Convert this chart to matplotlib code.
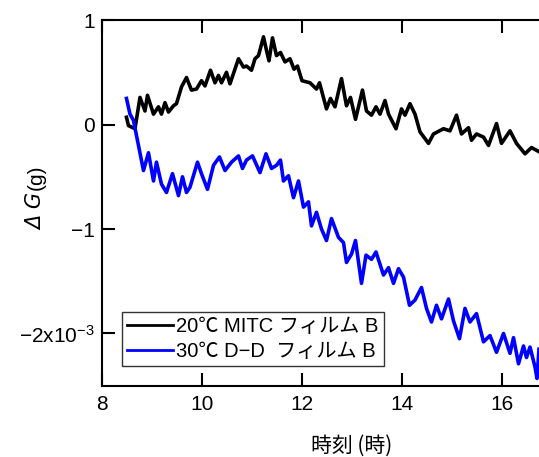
import matplotlib
matplotlib.use("Agg")
import matplotlib.pyplot as plt

plt.rcParams['font.family'] = ['Liberation Sans', 'Noto Sans CJK JP', 'DejaVu Sans']
plt.rcParams['mathtext.fontset'] = 'custom'
plt.rcParams['mathtext.rm'] = 'Liberation Sans'
plt.rcParams['mathtext.it'] = 'Liberation Sans:italic'

# Time of day (h) and mass change (x1e-3 g)
t_mitc = [8.49, 8.53, 8.66, 8.76, 8.86, 8.91, 9.03, 9.13, 9.19, 9.26, 9.33, 9.43,
          9.49, 9.59, 9.69, 9.79, 9.89, 9.99, 10.06, 10.17, 10.26, 10.33, 10.39,
          10.49, 10.56, 10.73, 10.83, 10.89, 10.99, 11.06, 11.13, 11.23, 11.29,
          11.34, 11.41, 11.49, 11.57, 11.66, 11.76, 11.84, 11.91, 12.00, 12.16,
          12.29, 12.35, 12.49, 12.57, 12.66, 12.79, 12.89, 12.97, 13.07, 13.21,
          13.29, 13.39, 13.48, 13.56, 13.66, 13.73, 13.88, 13.99, 14.06, 14.16,
          14.26, 14.36, 14.53, 14.63, 14.83, 14.96, 15.09, 15.19, 15.33, 15.39,
          15.49, 15.63, 15.73, 15.89, 15.99, 16.16, 16.29, 16.46, 16.59, 16.74]
g_mitc = [0.07, -0.01, -0.04, 0.26, 0.13, 0.28, 0.10, 0.17, 0.10, 0.21, 0.12, 0.18,
          0.20, 0.36, 0.45, 0.33, 0.34, 0.42, 0.37, 0.52, 0.40, 0.47, 0.40,
          0.50, 0.39, 0.63, 0.55, 0.56, 0.52, 0.63, 0.66, 0.84, 0.71,
          0.61, 0.83, 0.66, 0.69, 0.60, 0.63, 0.53, 0.56, 0.42, 0.40,
          0.34, 0.40, 0.15, 0.25, 0.17, 0.44, 0.18, 0.26, 0.05, 0.33,
          0.13, 0.09, 0.17, 0.10, 0.23, 0.10, -0.04, 0.15, 0.09, 0.20,
          0.10, -0.07, -0.18, -0.09, -0.04, -0.06, 0.09, -0.09, -0.03, -0.15,
          -0.09, -0.12, -0.20, 0.01, -0.18, -0.06, -0.18, -0.28, -0.22, -0.26]

t_dd = [8.49, 8.56, 8.63, 8.83, 8.93, 9.03, 9.09, 9.19, 9.29, 9.41, 9.53, 9.61,
        9.69, 9.76, 9.91, 9.99, 10.11, 10.23, 10.35, 10.46, 10.59, 10.73, 10.81,
        10.89, 11.01, 11.16, 11.28, 11.39, 11.49, 11.57, 11.63, 11.73, 11.83,
        11.93, 12.03, 12.13, 12.19, 12.29, 12.39, 12.49, 12.59, 12.73, 12.83,
        12.89, 12.99, 13.07, 13.19, 13.28, 13.39, 13.48, 13.63, 13.73, 13.83,
        13.93, 14.03, 14.15, 14.26, 14.39, 14.49, 14.59, 14.69, 14.79, 14.93,
        15.03, 15.15, 15.26, 15.36, 15.49, 15.63, 15.76, 15.89, 16.03, 16.16,
        16.23, 16.33, 16.43, 16.49, 16.56, 16.66, 16.70, 16.74]
g_dd = [0.25, 0.10, 0.04, -0.44, -0.27, -0.54, -0.36, -0.57, -0.65, -0.47, -0.68, -0.50,
        -0.65, -0.60, -0.36, -0.47, -0.62, -0.39, -0.31, -0.44, -0.36, -0.30, -0.42,
        -0.34, -0.30, -0.46, -0.28, -0.42, -0.39, -0.34, -0.54, -0.49, -0.70,
        -0.54, -0.79, -0.74, -0.97, -0.84, -1.00, -1.11, -0.90, -1.08, -1.13,
        -1.32, -1.24, -1.11, -1.52, -1.25, -1.29, -1.22, -1.44, -1.37, -1.52,
        -1.38, -1.46, -1.73, -1.68, -1.56, -1.76, -1.89, -1.73, -1.86, -1.67,
        -1.88, -2.05, -1.76, -1.89, -1.81, -2.08, -2.02, -2.18, -2.00, -2.19,
        -2.04, -2.29, -2.12, -2.23, -2.13, -2.32, -2.43, -2.15]

label_mitc = "20℃ MITC フィルム B"
label_dd = "30℃ D−D  フィルム B"

y_ticks = [-2, -1, 0, 1]
y_ticklabels = ["−2x10$^{-3}$", "−1", "0", "1"]
x_ticks = [8, 10, 12, 14, 16]
x_ticklabels = ["8", "10", "12", "14", "16"]

fig = plt.figure(figsize=(5.39, 4.57), dpi=100)
ax = fig.add_axes([0.1892, 0.156, 0.8108, 0.800])

ax.plot(t_mitc, g_mitc, color="black", lw=2.6, label=label_mitc)
ax.plot(t_dd, g_dd, color="#0000ff", lw=2.6, label=label_dd)

ax.set_xlim(8, 16.74)
ax.set_ylim(-2.5, 1.0)
ax.set_xticks(x_ticks)
ax.set_xticklabels(x_ticklabels)
ax.set_yticks(y_ticks)
ax.set_yticklabels(y_ticklabels)

for side in ["left", "bottom", "top"]:
    ax.spines[side].set_linewidth(1.5)
ax.spines["right"].set_visible(False)

ax.tick_params(axis="both", which="major", direction="in", length=9.5, width=1.5,
               labelsize=15, top=True, right=False, color="black")
ax.tick_params(axis="x", pad=7)
ax.tick_params(axis="y", pad=5)

ax.set_xlabel("時刻 (時)", fontsize=15, family=['Noto Sans CJK JP'])
ax.xaxis.set_label_coords(0.572, -0.135)

# y-axis title: italic symbol part and upright unit part
fig.text(36 / 539, 1 - 212 / 457, "Δ G", rotation=90, fontsize=15, style="italic",
         family=["DejaVu Sans"], ha="center", va="center")
fig.text(36 / 539, 1 - 177 / 457, "(g)", rotation=90, fontsize=15,
         ha="center", va="center")

leg = ax.legend(loc="lower left", bbox_to_anchor=(0.046, 0.054), fontsize=14.5,
                frameon=True, fancybox=False, handlelength=2.3, handletextpad=0.15,
                borderpad=0.25, labelspacing=0.3, borderaxespad=0)
leg.get_frame().set_edgecolor("black")
leg.get_frame().set_linewidth(1.0)
for line in leg.get_lines():
    line.set_linewidth(2.0)

fig.savefig("out.png", dpi=100)
